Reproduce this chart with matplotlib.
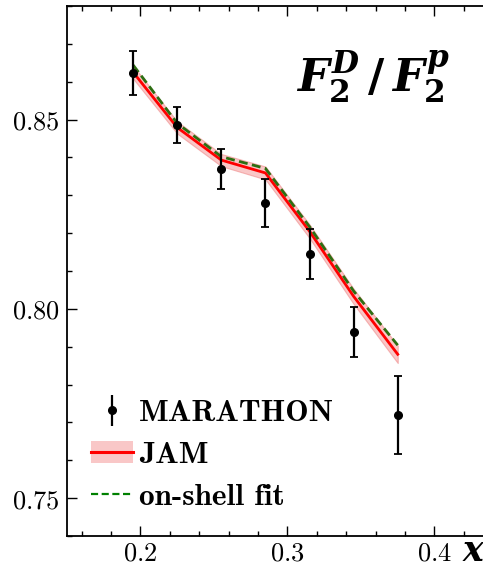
import matplotlib
matplotlib.use("Agg")
import matplotlib.pyplot as plt
import numpy as np
from matplotlib.ticker import MultipleLocator, FuncFormatter
from matplotlib.lines import Line2D
from matplotlib.patches import Patch

plt.rcParams["mathtext.fontset"] = "cm"
plt.rcParams["mathtext.it"] = "DejaVu Serif:italic:bold"
plt.rcParams["mathtext.rm"] = "DejaVu Serif:bold"
plt.rcParams["mathtext.bf"] = "DejaVu Serif:bold"

# MARATHON data points
x_data = [0.195, 0.225, 0.255, 0.285, 0.315, 0.345, 0.375]
y_data = [0.8623, 0.8485, 0.8369, 0.8279, 0.8144, 0.7939, 0.7719]
y_err = [0.0057, 0.0048, 0.0053, 0.0063, 0.0066, 0.0067, 0.0103]

# JAM fit (central + band half-width) and on-shell fit
jam = [0.8625, 0.8479, 0.8393, 0.8359, 0.8205, 0.8033, 0.7880]
jam_unc = [0.0017, 0.0016, 0.0016, 0.0017, 0.0018, 0.0020, 0.0023]
onshell = [0.8644, 0.8490, 0.8402, 0.8371, 0.8217, 0.8047, 0.7904]

BAND = "#f5a3a3"

fig = plt.figure(figsize=(4.83, 5.66), dpi=100)
ax = fig.add_axes([0.1387, 0.053, 0.913, 0.9364])

lo = np.array(jam) - np.array(jam_unc)
hi = np.array(jam) + np.array(jam_unc)
ax.fill_between(x_data, lo, hi, color=BAND, alpha=0.6, lw=0.8,
                edgecolor="#f08a8a", zorder=1)
ax.plot(x_data, jam, color="red", lw=2.0, zorder=2)
ax.plot(x_data, onshell, color="#2d6e12", lw=2.0, ls=(0, (3.2, 1.6)), zorder=3)
ax.errorbar(x_data, y_data, yerr=y_err, fmt="o", color="black", ms=5.5,
            elinewidth=1.6, capsize=3, capthick=1.3, zorder=4)

ax.set_xlim(0.15, 0.45)
ax.set_ylim(0.74, 0.88)
ax.xaxis.set_major_locator(MultipleLocator(0.1))
ax.xaxis.set_minor_locator(MultipleLocator(0.02))
ax.yaxis.set_major_locator(MultipleLocator(0.05))
ax.yaxis.set_minor_locator(MultipleLocator(0.01))
ax.xaxis.set_major_formatter(FuncFormatter(lambda v, p: f"${v:.1f}$"))
ax.yaxis.set_major_formatter(FuncFormatter(lambda v, p: f"${v:.2f}$"))
ax.tick_params(which="both", direction="in", top=True, right=True,
               labelsize=19, width=1.0)
ax.tick_params(which="major", length=7)
ax.tick_params(which="minor", length=3.5)
ax.tick_params(axis="x", which="major", pad=3)
ax.tick_params(axis="y", which="major", pad=5)
for s in ax.spines.values():
    s.set_linewidth(1.3)

fig.text(0.772, 0.864, r"$F_2^D\,/\,F_2^p$", fontsize=32, ha="center",
         va="center", math_fontfamily="custom")
fig.text(0.982, 0.027, r"$x$", fontsize=25, ha="center", va="center",
         math_fontfamily="custom")

eb = ax.errorbar([], [], yerr=[], fmt="o", color="black", ms=5.5,
                 elinewidth=1.6, capsize=3, capthick=1.3)
handles = [
    eb,
    (Patch(facecolor=BAND, alpha=0.6, edgecolor="none"),
     Line2D([0], [0], color="red", lw=2.2)),
    Line2D([0], [0], color="green", lw=1.6, ls=(0, (3.2, 1.6))),
]
labels = ["MARATHON", "JAM", "on-shell fit"]
ax.legend(handles, labels, loc="lower left", bbox_to_anchor=(0.025, 0.023),
          borderaxespad=0, frameon=False, prop={"family": "cmb10", "size": 22.5},
          handlelength=1.35, handletextpad=0.2, labelspacing=0.45)

fig.savefig("out.png", dpi=100)
